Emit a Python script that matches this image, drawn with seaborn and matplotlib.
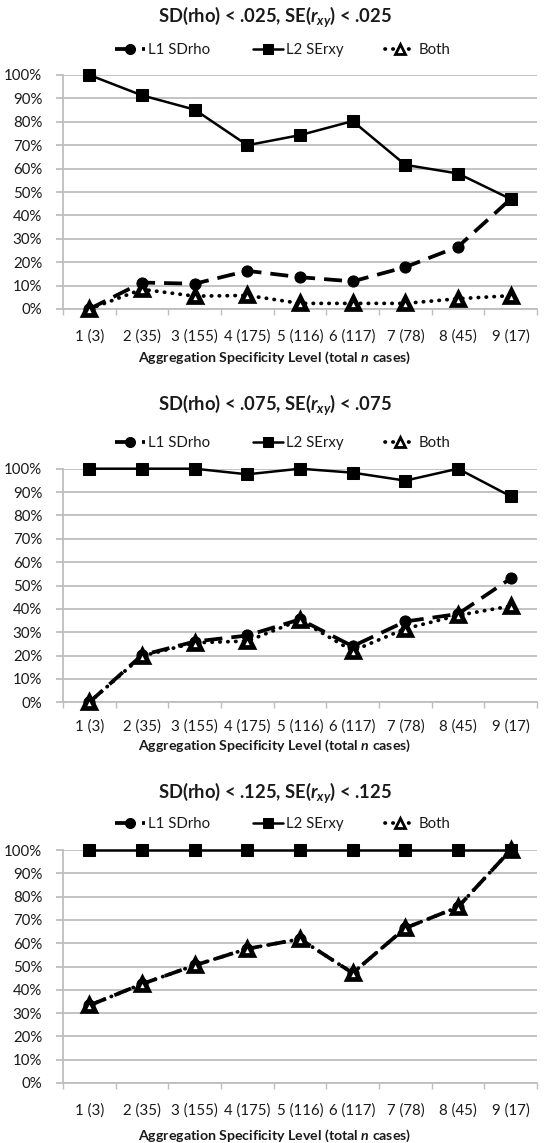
import numpy as np
import pandas as pd
import matplotlib
matplotlib.use("Agg")
import matplotlib.pyplot as plt
from matplotlib.ticker import PercentFormatter, FixedLocator
import seaborn as sns

# ---- data ----
levels = ["1 (3)", "2 (35)", "3 (155)", "4 (175)", "5 (116)",
          "6 (117)", "7 (78)", "8 (45)", "9 (17)"]
thresholds = [".025", ".075", ".125"]

l1_025 = [0, 11.3, 10.8, 16.3, 13.6, 11.8, 17.9, 26.6, 47]
l2_025 = [100, 91.3, 85.2, 70, 74.3, 80.3, 61.6, 57.9, 47]
both_025 = [0, 8.4, 5.5, 5.8, 2.4, 2.4, 2.4, 4.4, 5.7]

l1_075 = [0, 20.2, 26, 28.6, 35.5, 24, 34.6, 37.8, 53]
l2_075 = [100, 100, 100, 97.6, 100, 98.3, 94.9, 100, 88.2]
both_075 = [0, 19.8, 25.5, 26.2, 35.2, 22, 31.5, 37.2, 41.2]

l1_125 = [33.3, 42.5, 50.5, 57.6, 61.8, 47.2, 66.5, 75.5, 100]
l2_125 = [100, 100, 100, 100, 100, 100, 100, 100, 100]
both_125 = [33.3, 42.5, 50.5, 57.6, 61.8, 47.2, 66.5, 75.5, 100]

panels = [(l1_025, l2_025, both_025),
          (l1_075, l2_075, both_075),
          (l1_125, l2_125, both_125)]

sns.set_style("white")
plt.rcParams["font.family"] = ["Lato", "DejaVu Sans"]
plt.rcParams["mathtext.fontset"] = "custom"
plt.rcParams["mathtext.rm"] = "Lato:bold"
plt.rcParams["mathtext.it"] = "Lato:bold:italic"
plt.rcParams["mathtext.bf"] = "Lato:bold"

W, H = 549, 1143
fig = plt.figure(figsize=(W / 100, H / 100), dpi=100)

# pixel geometry of each panel: (top of 100%, 0% line, title y, legend y, ticklabel pad, xlabel y)
geo = [(75, 309, 17, 50, 15, 358),
       (468.7, 702.3, 405, 443, 12, 746),
       (850, 1083, 793, 824, 15, 1136)]

grid_c = "#BEBEBE"
txt_c = "#1a1a1a"
x_pos = np.arange(1, 10)

for (l1, l2, both), thr, (ytop, ybot, ty, ly, pad, xly) in zip(panels, thresholds, geo):
    ax = fig.add_axes([63 / W, (H - ybot) / H, 474 / W, (ybot - ytop) / H])
    df = pd.DataFrame({"x": x_pos, "L1 SDrho": l1, "L2 SErxy": l2, "Both": both})

    sns.lineplot(data=df, x="x", y="L1 SDrho", ax=ax, color="black", lw=2.7,
                 marker="o", ms=8, mec="black", label="L1 SDrho",
                 clip_on=False, zorder=3)
    ax.lines[-1].set_dashes((4.8, 2.4))
    sns.lineplot(data=df, x="x", y="L2 SErxy", ax=ax, color="black", lw=1.8,
                 marker="s", ms=8, mec="black", label="L2 SErxy",
                 clip_on=False, zorder=4)
    sns.lineplot(data=df, x="x", y="Both", ax=ax, color="black", lw=2.7,
                 marker="^", ms=8, mfc="white", mec="black", mew=3.4,
                 label="Both", clip_on=False, zorder=3)
    ax.lines[-1].set_dashes((0.1, 2.0))
    ax.lines[-1].set_dash_capstyle("round")

    ax.set_xlim(0.5, 9.5)
    ax.set_ylim(0, 100)
    ax.yaxis.set_major_locator(FixedLocator(np.arange(0, 101, 10)))
    ax.yaxis.set_major_formatter(PercentFormatter(decimals=0))
    ax.xaxis.set_major_locator(FixedLocator(np.arange(0.5, 9.6, 1)))
    ax.xaxis.set_major_formatter(plt.NullFormatter())
    ax.xaxis.set_minor_locator(FixedLocator(x_pos))
    ax.set_xticklabels(levels, minor=True)
    ax.tick_params(axis="x", which="major", direction="out", length=4,
                   width=1, color=grid_c, bottom=True)
    ax.tick_params(axis="x", which="minor", length=0, pad=pad,
                   labelsize=10.8, labelcolor=txt_c)
    ax.tick_params(axis="y", direction="out", length=5, width=1.3,
                   color=grid_c, left=True, pad=10, labelsize=10.8,
                   labelcolor=txt_c)
    ax.grid(axis="y", color=grid_c, lw=1.3)
    ax.set_axisbelow(True)
    for s in ["top", "right"]:
        ax.spines[s].set_visible(False)
    ax.spines["left"].set_color(grid_c)
    ax.spines["bottom"].set_color(grid_c)
    ax.spines["left"].set_linewidth(1.3)
    ax.spines["bottom"].set_linewidth(1.3)
    ax.set_xlabel("")
    ax.set_ylabel("")

    leg = ax.legend(loc="center", bbox_to_anchor=(0.515, 1 - ly / H),
                    bbox_transform=fig.transFigure, ncol=3, frameon=False,
                    fontsize=10.8, handlelength=2.0, handletextpad=0.2,
                    columnspacing=2.8, markerscale=0.9)
    for t in leg.get_texts():
        t.set_color(txt_c)
    leg.legend_handles[2].set_markeredgewidth(2.0)

    fig.text(0.5, 1 - ty / H,
             "SD(rho) < " + thr + ", SE($r_{xy}$) < " + thr,
             ha="center", va="center", fontsize=13.2, fontweight="bold",
             color=txt_c)
    fig.text(0.5, 1 - xly / H,
             r"Aggregation Specificity Level (total $\it{n}$ cases)",
             ha="center", va="center", fontsize=10.2, fontweight="bold",
             color=txt_c)

fig.savefig("out.png", dpi=100)
